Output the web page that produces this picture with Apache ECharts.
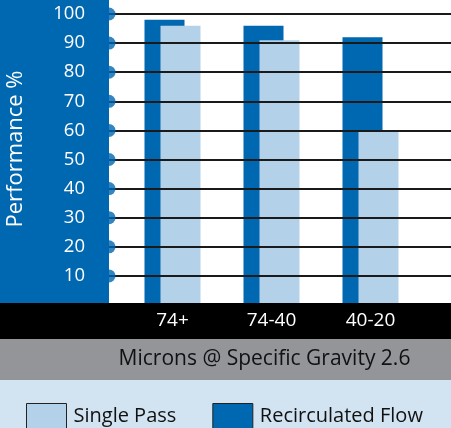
<!DOCTYPE html>
<html><head><meta charset="utf-8">
<script src="https://cdn.jsdelivr.net/npm/echarts@6/dist/echarts.min.js"></script>
<style>html,body{margin:0;padding:0;background:#fff}#c{width:451px;height:428px}</style>
</head><body><div id="c"></div>
<script>
const categories = ['74+', '74-40', '40-20'];
const singlePass = [96, 91, 60];
const recirculated = [98, 96, 92];
const yTicks = [10, 20, 30, 40, 50, 60, 70, 80, 90, 100];
const yTitle = 'Performance %';
const xTitle = 'Microns @ Specific Gravity 2.6';

const DARK = '#0067B1';
const LIGHT = '#B3D1E8';
const FONT = 'Open Sans';

const chart = echarts.init(document.getElementById('c'), null, {renderer: 'canvas'});
chart.setOption({
  animation: false,
  textStyle: {fontFamily: FONT},
  grid: [
    {left: 109, right: 0, top: 14, bottom: 123},
    {left: 123, right: 31, top: 14, bottom: 123}
  ],
  xAxis: [
    {gridIndex: 0, type: 'value', min: 0, max: 1, show: false},
    {gridIndex: 1, type: 'category', data: categories, z: 200,
     axisLine: {show: false}, axisTick: {show: false},
     axisLabel: {color: '#fff', fontSize: 19, fontFamily: FONT, margin: 6}}
  ],
  yAxis: [
    {gridIndex: 0, type: 'value', min: 0, max: 100, interval: 10, z: 50,
     axisLine: {show: false}, axisTick: {show: false},
     axisLabel: {color: '#fff', fontSize: 18.5, fontFamily: FONT, margin: 24,
       formatter: v => (v === 0 ? '' : v)},
     splitLine: {show: true, lineStyle: {color: '#1a1a1a', width: 2}}},
    {gridIndex: 1, type: 'value', min: 0, max: 100, show: false}
  ],
  legend: {
    left: 21, top: 398, z: 300,
    data: ['Single Pass', 'Recirculated Flow'],
    itemWidth: 40, itemHeight: 26, itemGap: 36,
    icon: 'rect',
    itemStyle: {borderColor: '#222', borderWidth: 1},
    textStyle: {color: '#111', fontSize: 20, fontFamily: FONT, padding: [0, 0, 0, 2]}
  },
  graphic: [
    {type: 'rect', z: -1, shape: {x: 0, y: 0, width: 109, height: 304}, style: {fill: DARK}},
    {type: 'rect', z: 100, shape: {x: 0, y: 303, width: 451, height: 36}, style: {fill: '#000'}},
    {type: 'rect', z: 100, shape: {x: 0, y: 339, width: 451, height: 41}, style: {fill: '#939598'}},
    {type: 'rect', z: 100, shape: {x: 0, y: 380, width: 451, height: 48}, style: {fill: '#D2E3F1'}},
    {type: 'text', z: 110, x: 264.5, y: 359,
     style: {text: xTitle, fill: '#111', font: '21px "' + FONT + '"', textAlign: 'center', textVerticalAlign: 'middle'}},
    {type: 'text', z: 110, x: 16, y: 149, rotation: Math.PI / 2,
     style: {text: yTitle, fill: '#fff', font: '22px "' + FONT + '"', textAlign: 'center', textVerticalAlign: 'middle'}}
  ],
  series: [
    {name: 'Recirculated Flow', type: 'bar', xAxisIndex: 1, yAxisIndex: 1,
     data: recirculated, barWidth: 40, barGap: '-60%', itemStyle: {color: DARK}, z: 2},
    {name: 'Single Pass', type: 'bar', xAxisIndex: 1, yAxisIndex: 1,
     data: singlePass, barWidth: 40, itemStyle: {color: LIGHT}, z: 2},
    {type: 'scatter', xAxisIndex: 0, yAxisIndex: 0, silent: true, clip: false, z: 60,
     symbol: 'circle', symbolSize: 13, itemStyle: {color: DARK},
     data: yTicks.map(t => [0, t])}
  ]
});
</script></body></html>
